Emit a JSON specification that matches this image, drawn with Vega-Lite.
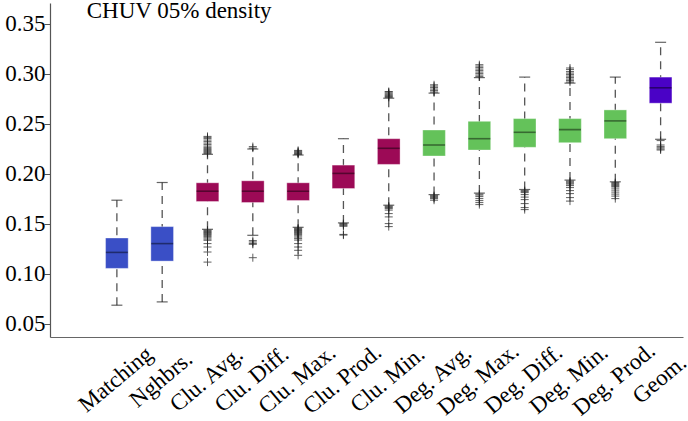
{
  "$schema": "https://vega.github.io/schema/vega-lite/v6.json",
  "width": 633,
  "height": 334,
  "autosize": {"type": "none"},
  "padding": {"left": 50, "top": 3, "right": 5, "bottom": 84},
  "background": "white",
  "config": {"view": {"stroke": null}, "font": "Liberation Serif"},
  "title": {"text": "CHUV 05% density", "anchor": "start", "frame": "bounds", "orient": "top", "align": "left", "baseline": "alphabetic", "offset": -22, "dx": 82, "dy": 16, "fontSize": 23, "fontWeight": "normal", "font": "Liberation Serif", "color": "black"},
  "datasets": {
    "stats": [
      {"name": "Matching", "group": "base", "lower": 0.0684, "q1": 0.1052, "median": 0.1212, "q3": 0.1356, "upper": 0.1734},
      {"name": "Nghbrs.", "group": "base", "lower": 0.0717, "q1": 0.1125, "median": 0.1300, "q3": 0.1470, "upper": 0.1911},
      {"name": "Clu. Avg.", "group": "clu", "lower": 0.1443, "q1": 0.1721, "median": 0.1824, "q3": 0.1908, "upper": 0.2193},
      {"name": "Clu. Diff.", "group": "clu", "lower": 0.1383, "q1": 0.1711, "median": 0.1824, "q3": 0.1928, "upper": 0.2246},
      {"name": "Clu. Max.", "group": "clu", "lower": 0.1463, "q1": 0.1731, "median": 0.1824, "q3": 0.1908, "upper": 0.2186},
      {"name": "Clu. Prod.", "group": "clu", "lower": 0.1507, "q1": 0.1851, "median": 0.2002, "q3": 0.2085, "upper": 0.2349},
      {"name": "Clu. Min.", "group": "clu", "lower": 0.1684, "q1": 0.2092, "median": 0.2253, "q3": 0.2349, "upper": 0.2754},
      {"name": "Deg. Avg.", "group": "deg", "lower": 0.1790, "q1": 0.2176, "median": 0.2286, "q3": 0.2436, "upper": 0.2805},
      {"name": "Deg. Max.", "group": "deg", "lower": 0.1805, "q1": 0.2236, "median": 0.2349, "q3": 0.2523, "upper": 0.2960},
      {"name": "Deg. Diff.", "group": "deg", "lower": 0.1841, "q1": 0.2263, "median": 0.2413, "q3": 0.2550, "upper": 0.2965},
      {"name": "Deg. Min.", "group": "deg", "lower": 0.1935, "q1": 0.2309, "median": 0.2440, "q3": 0.2550, "upper": 0.2905},
      {"name": "Deg. Prod.", "group": "deg", "lower": 0.1918, "q1": 0.2349, "median": 0.2527, "q3": 0.2637, "upper": 0.2965},
      {"name": "Geom.", "group": "geom", "lower": 0.2343, "q1": 0.2704, "median": 0.2858, "q3": 0.2965, "upper": 0.3313}
    ],
    "outliers": [
      {"name": "Clu. Avg.", "v": 0.2200}, {"name": "Clu. Avg.", "v": 0.2210}, {"name": "Clu. Avg.", "v": 0.2220}, {"name": "Clu. Avg.", "v": 0.2230}, {"name": "Clu. Avg.", "v": 0.2240}, {"name": "Clu. Avg.", "v": 0.2250}, {"name": "Clu. Avg.", "v": 0.2262}, {"name": "Clu. Avg.", "v": 0.2275}, {"name": "Clu. Avg.", "v": 0.2290}, {"name": "Clu. Avg.", "v": 0.2305}, {"name": "Clu. Avg.", "v": 0.2320}, {"name": "Clu. Avg.", "v": 0.2335}, {"name": "Clu. Avg.", "v": 0.2350}, {"name": "Clu. Avg.", "v": 0.2362}, {"name": "Clu. Avg.", "v": 0.2372},
      {"name": "Clu. Avg.", "v": 0.1435}, {"name": "Clu. Avg.", "v": 0.1428}, {"name": "Clu. Avg.", "v": 0.1420}, {"name": "Clu. Avg.", "v": 0.1412}, {"name": "Clu. Avg.", "v": 0.1405}, {"name": "Clu. Avg.", "v": 0.1398}, {"name": "Clu. Avg.", "v": 0.1390}, {"name": "Clu. Avg.", "v": 0.1380}, {"name": "Clu. Avg.", "v": 0.1370}, {"name": "Clu. Avg.", "v": 0.1358}, {"name": "Clu. Avg.", "v": 0.1345}, {"name": "Clu. Avg.", "v": 0.1333}, {"name": "Clu. Avg.", "v": 0.1300}, {"name": "Clu. Avg.", "v": 0.1266}, {"name": "Clu. Avg.", "v": 0.1216}, {"name": "Clu. Avg.", "v": 0.1115},
      {"name": "Clu. Diff.", "v": 0.2255}, {"name": "Clu. Diff.", "v": 0.2270},
      {"name": "Clu. Diff.", "v": 0.1330}, {"name": "Clu. Diff.", "v": 0.1316}, {"name": "Clu. Diff.", "v": 0.1300}, {"name": "Clu. Diff.", "v": 0.1293}, {"name": "Clu. Diff.", "v": 0.1159},
      {"name": "Clu. Max.", "v": 0.2192}, {"name": "Clu. Max.", "v": 0.2200}, {"name": "Clu. Max.", "v": 0.2208}, {"name": "Clu. Max.", "v": 0.2216}, {"name": "Clu. Max.", "v": 0.2224}, {"name": "Clu. Max.", "v": 0.2232},
      {"name": "Clu. Max.", "v": 0.1455}, {"name": "Clu. Max.", "v": 0.1448}, {"name": "Clu. Max.", "v": 0.1440}, {"name": "Clu. Max.", "v": 0.1432}, {"name": "Clu. Max.", "v": 0.1425}, {"name": "Clu. Max.", "v": 0.1418}, {"name": "Clu. Max.", "v": 0.1410}, {"name": "Clu. Max.", "v": 0.1400}, {"name": "Clu. Max.", "v": 0.1390}, {"name": "Clu. Max.", "v": 0.1378}, {"name": "Clu. Max.", "v": 0.1365}, {"name": "Clu. Max.", "v": 0.1350}, {"name": "Clu. Max.", "v": 0.1335}, {"name": "Clu. Max.", "v": 0.1300}, {"name": "Clu. Max.", "v": 0.1266}, {"name": "Clu. Max.", "v": 0.1233}, {"name": "Clu. Max.", "v": 0.1183},
      {"name": "Clu. Prod.", "v": 0.1500}, {"name": "Clu. Prod.", "v": 0.1492}, {"name": "Clu. Prod.", "v": 0.1482}, {"name": "Clu. Prod.", "v": 0.1473}, {"name": "Clu. Prod.", "v": 0.1392}, {"name": "Clu. Prod.", "v": 0.1385},
      {"name": "Clu. Min.", "v": 0.2762}, {"name": "Clu. Min.", "v": 0.2770}, {"name": "Clu. Min.", "v": 0.2778}, {"name": "Clu. Min.", "v": 0.2786}, {"name": "Clu. Min.", "v": 0.2795}, {"name": "Clu. Min.", "v": 0.2805}, {"name": "Clu. Min.", "v": 0.2815}, {"name": "Clu. Min.", "v": 0.2821},
      {"name": "Clu. Min.", "v": 0.1676}, {"name": "Clu. Min.", "v": 0.1668}, {"name": "Clu. Min.", "v": 0.1660}, {"name": "Clu. Min.", "v": 0.1650}, {"name": "Clu. Min.", "v": 0.1635}, {"name": "Clu. Min.", "v": 0.1600}, {"name": "Clu. Min.", "v": 0.1567}, {"name": "Clu. Min.", "v": 0.1500}, {"name": "Clu. Min.", "v": 0.1470},
      {"name": "Deg. Avg.", "v": 0.2815}, {"name": "Deg. Avg.", "v": 0.2830}, {"name": "Deg. Avg.", "v": 0.2845}, {"name": "Deg. Avg.", "v": 0.2860}, {"name": "Deg. Avg.", "v": 0.2875}, {"name": "Deg. Avg.", "v": 0.2888},
      {"name": "Deg. Avg.", "v": 0.1780}, {"name": "Deg. Avg.", "v": 0.1770}, {"name": "Deg. Avg.", "v": 0.1760}, {"name": "Deg. Avg.", "v": 0.1750}, {"name": "Deg. Avg.", "v": 0.1734},
      {"name": "Deg. Max.", "v": 0.2970}, {"name": "Deg. Max.", "v": 0.2985}, {"name": "Deg. Max.", "v": 0.3000}, {"name": "Deg. Max.", "v": 0.3015}, {"name": "Deg. Max.", "v": 0.3030}, {"name": "Deg. Max.", "v": 0.3045}, {"name": "Deg. Max.", "v": 0.3060}, {"name": "Deg. Max.", "v": 0.3075}, {"name": "Deg. Max.", "v": 0.3089},
      {"name": "Deg. Max.", "v": 0.1795}, {"name": "Deg. Max.", "v": 0.1785}, {"name": "Deg. Max.", "v": 0.1770}, {"name": "Deg. Max.", "v": 0.1750}, {"name": "Deg. Max.", "v": 0.1730}, {"name": "Deg. Max.", "v": 0.1710}, {"name": "Deg. Max.", "v": 0.1690},
      {"name": "Deg. Diff.", "v": 0.1830}, {"name": "Deg. Diff.", "v": 0.1820}, {"name": "Deg. Diff.", "v": 0.1810}, {"name": "Deg. Diff.", "v": 0.1790}, {"name": "Deg. Diff.", "v": 0.1765}, {"name": "Deg. Diff.", "v": 0.1740}, {"name": "Deg. Diff.", "v": 0.1700}, {"name": "Deg. Diff.", "v": 0.1660}, {"name": "Deg. Diff.", "v": 0.1640},
      {"name": "Deg. Min.", "v": 0.2915}, {"name": "Deg. Min.", "v": 0.2930}, {"name": "Deg. Min.", "v": 0.2945}, {"name": "Deg. Min.", "v": 0.2960}, {"name": "Deg. Min.", "v": 0.2975}, {"name": "Deg. Min.", "v": 0.2990}, {"name": "Deg. Min.", "v": 0.3005}, {"name": "Deg. Min.", "v": 0.3020}, {"name": "Deg. Min.", "v": 0.3040}, {"name": "Deg. Min.", "v": 0.3056},
      {"name": "Deg. Min.", "v": 0.1925}, {"name": "Deg. Min.", "v": 0.1915}, {"name": "Deg. Min.", "v": 0.1905}, {"name": "Deg. Min.", "v": 0.1895}, {"name": "Deg. Min.", "v": 0.1880}, {"name": "Deg. Min.", "v": 0.1860}, {"name": "Deg. Min.", "v": 0.1830}, {"name": "Deg. Min.", "v": 0.1800}, {"name": "Deg. Min.", "v": 0.1760}, {"name": "Deg. Min.", "v": 0.1725},
      {"name": "Deg. Prod.", "v": 0.1910}, {"name": "Deg. Prod.", "v": 0.1900}, {"name": "Deg. Prod.", "v": 0.1890}, {"name": "Deg. Prod.", "v": 0.1880}, {"name": "Deg. Prod.", "v": 0.1870}, {"name": "Deg. Prod.", "v": 0.1855}, {"name": "Deg. Prod.", "v": 0.1835}, {"name": "Deg. Prod.", "v": 0.1815}, {"name": "Deg. Prod.", "v": 0.1795}, {"name": "Deg. Prod.", "v": 0.1775}, {"name": "Deg. Prod.", "v": 0.1750},
      {"name": "Geom.", "v": 0.2330}, {"name": "Geom.", "v": 0.2286}, {"name": "Geom.", "v": 0.2270}, {"name": "Geom.", "v": 0.2258}, {"name": "Geom.", "v": 0.2246}, {"name": "Geom.", "v": 0.2236}
    ]
  },
  "encoding": {
    "x": {
      "field": "name", "type": "nominal",
      "scale": {"domain": ["Matching", "Nghbrs.", "Clu. Avg.", "Clu. Diff.", "Clu. Max.", "Clu. Prod.", "Clu. Min.", "Deg. Avg.", "Deg. Max.", "Deg. Diff.", "Deg. Min.", "Deg. Prod.", "Geom."], "paddingInner": 0.5, "paddingOuter": 0.735, "align": 0.834},
      "axis": {"title": null, "labelAngle": -40, "labelAlign": "center", "labelBaseline": "middle", "ticks": false, "tickSize": 0, "labelPadding": 42, "labelOffset": -1, "labelOverlap": false, "labelLimit": 0, "labelFont": "Liberation Serif", "labelFontSize": 23, "labelColor": "black", "domainColor": "#666666", "domainWidth": 1.2, "grid": false}
    }
  },
  "layer": [
    {
      "data": {"name": "stats"},
      "mark": {"type": "rule", "color": "#555555", "strokeWidth": 1.3, "strokeDash": [8, 6]},
      "encoding": {
        "y": {"field": "lower", "type": "quantitative", "scale": {"domain": [0.0366, 0.3706], "nice": false, "zero": false},
          "axis": {"title": null, "values": [0.05, 0.1, 0.15, 0.2, 0.25, 0.3, 0.35], "format": ".2f", "grid": false, "labelFont": "Liberation Serif", "labelFontSize": 23, "labelColor": "black", "labelPadding": -1, "tickSize": 6, "tickColor": "#555555", "domainColor": "#555555", "domainWidth": 1.2}},
        "y2": {"field": "upper"}
      }
    },
    {
      "data": {"name": "stats"},
      "mark": {"type": "tick", "color": "#222222", "thickness": 1.2, "size": 11},
      "encoding": {"y": {"field": "lower", "type": "quantitative"}}
    },
    {
      "data": {"name": "stats"},
      "mark": {"type": "tick", "color": "#222222", "thickness": 1.2, "size": 11},
      "encoding": {"y": {"field": "upper", "type": "quantitative"}}
    },
    {
      "data": {"name": "stats"},
      "mark": {"type": "bar", "stroke": "white", "strokeOpacity": 0.35, "strokeWidth": 1},
      "encoding": {
        "y": {"field": "q1", "type": "quantitative"},
        "y2": {"field": "q3"},
        "color": {"field": "group", "type": "nominal", "scale": {"domain": ["base", "clu", "deg", "geom"], "range": ["#3a4fc6", "#9c0a56", "#64c25a", "#4a02c6"]}, "legend": null}
      }
    },
    {
      "data": {"name": "stats"},
      "mark": {"type": "tick", "color": "black", "opacity": 0.45, "thickness": 1.6, "size": 22},
      "encoding": {"y": {"field": "median", "type": "quantitative"}}
    },
    {
      "data": {"name": "outliers"},
      "mark": {"type": "point", "shape": "M-1,0L1,0M0,-1L0,1", "filled": false, "size": 64, "stroke": "#222222", "strokeWidth": 0.9, "opacity": 0.8},
      "encoding": {"y": {"field": "v", "type": "quantitative"}}
    }
  ]
}
